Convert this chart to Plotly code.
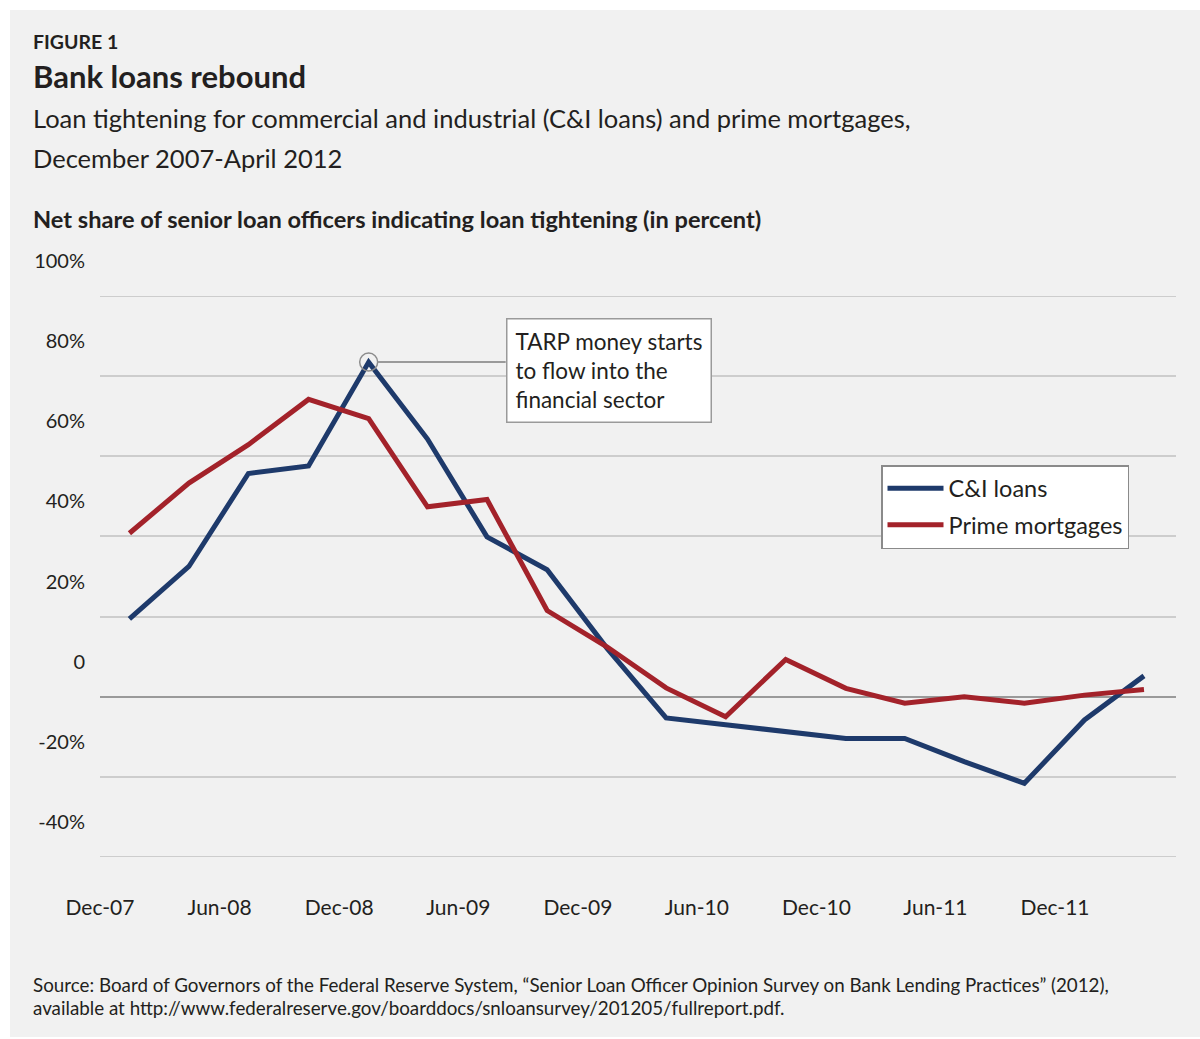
import plotly.graph_objects as go

# Survey dates (quarterly Senior Loan Officer Opinion Survey releases)
survey_dates = [
    "2008-01-15", "2008-04-15", "2008-07-15", "2008-10-15",
    "2009-01-15", "2009-04-15", "2009-07-15", "2009-10-15",
    "2010-01-15", "2010-04-15", "2010-07-15", "2010-10-15",
    "2011-01-15", "2011-04-15", "2011-07-15", "2011-10-15",
    "2012-01-15", "2012-04-15",
]

# Net share of senior loan officers indicating tightening (percent)
ci_loans = [19.4, 32.5, 55.7, 57.6, 83.5, 64.3, 39.9, 31.7,
            12.0, -5.3, -7.0, -8.7, -10.4, -10.4, -16.2, -21.6,
            -5.8, 5.2]
prime_mortgages = [40.8, 53.3, 62.9, 74.2, 69.4, 47.4, 49.2, 21.5,
                   12.4, 2.2, -5.0, 9.3, 2.1, -1.6, 0.0, -1.6,
                   0.4, 1.8]

series_names = ["C&I loans", "Prime mortgages"]

x_tick_dates = ["2007-12-01", "2008-06-01", "2008-12-01", "2009-06-01",
                "2009-12-01", "2010-06-01", "2010-12-01", "2011-06-01",
                "2011-12-01"]
x_tick_labels = ["Dec-07", "Jun-08", "Dec-08", "Jun-09", "Dec-09",
                 "Jun-10", "Dec-10", "Jun-11", "Dec-11"]
y_tick_values = [-40, -20, 0, 20, 40, 60, 80, 100]
y_tick_labels = ["-40%", "-20%", "0", "20%", "40%", "60%", "80%", "100%"]

BLUE = "#1e3a6b"
RED = "#a3222a"
TEXT = "#231f20"
GRID = "#cdcdcd"
FONT = "Lato"

# Figure geometry (pixels)
FIG_W, FIG_H = 1200, 1039
PLOT_L, PLOT_R, PLOT_T, PLOT_B = 100, 1176, 296, 857
PW, PH = PLOT_R - PLOT_L, PLOT_B - PLOT_T


def fx(px):
    return (px - PLOT_L) / PW


def fy(py):
    return (PLOT_B - py) / PH


fig = go.Figure()
fig.add_trace(go.Scatter(x=survey_dates, y=ci_loans, name=series_names[0],
                         mode="lines", line=dict(color=BLUE, width=5),
                         legendgroup="a"))
fig.add_trace(go.Scatter(x=survey_dates, y=prime_mortgages, name=series_names[1],
                         mode="lines", line=dict(color=RED, width=5),
                         legendgroup="b"))

# Highlight the C&I peak with an open circle and a leader line to the note
peak_i = max(range(len(ci_loans)), key=lambda i: ci_loans[i])
peak_x, peak_y = survey_dates[peak_i], ci_loans[peak_i]

shapes = [
    # light grey card behind everything
    dict(type="rect", xref="paper", yref="paper", layer="below",
         x0=fx(10), x1=fx(1200), y0=fy(1037), y1=fy(10),
         fillcolor="#f1f1f1", line=dict(width=0)),
    dict(type="circle", xref="x", yref="y", xsizemode="pixel", ysizemode="pixel",
         xanchor=peak_x, yanchor=peak_y, x0=-9, x1=9, y0=-9, y1=9,
         line=dict(color="#8c8c8c", width=1.5)),
    dict(type="line", xref="x", yref="y", xsizemode="pixel",
         xanchor=peak_x, x0=9, x1=137, y0=peak_y, y1=peak_y,
         line=dict(color="#9a9a9a", width=2)),
]
# gridlines at the top and bottom of the value range
for v in (y_tick_values[0], y_tick_values[-1]):
    shapes.append(dict(type="line", xref="paper", yref="y", layer="below",
                       x0=0, x1=1, y0=v, y1=v, line=dict(color=GRID, width=2)))

annotations = []


def add_text(text, px, py, size, bold=False, **kw):
    annotations.append(dict(
        text=f"<b>{text}</b>" if bold else text,
        xref="paper", yref="paper", x=fx(px), y=fy(py),
        xanchor="left", yanchor="middle", showarrow=False,
        font=dict(family=FONT, size=size, color=TEXT), align="left", **kw))


add_text("FIGURE 1", 31, 42, 19.5, bold=True)
add_text("Bank loans rebound", 31, 76, 31, bold=True)
add_text("Loan tightening for commercial and industrial (C&I loans) and prime mortgages,",
         31, 118, 25.5)
add_text("December 2007-April 2012", 31, 158, 25.5)
add_text("Net share of senior loan officers indicating loan tightening (in percent)",
         31, 219, 23.6, bold=True)
add_text("Source: Board of Governors of the Federal Reserve System, "
         "\u201cSenior Loan Officer Opinion Survey on Bank Lending Practices\u201d (2012),",
         31, 984, 18.8)
add_text("available at http://www.federalreserve.gov/boarddocs/snloansurvey/201205/fullreport.pdf.",
         31, 1007, 18.8)

# Callout box
annotations.append(dict(
    text="TARP money starts<br>to flow into the<br>financial sector",
    xref="paper", yref="paper", x=fx(506), y=fy(318),
    xanchor="left", yanchor="top", showarrow=False, align="left",
    font=dict(family=FONT, size=22.5, color=TEXT),
    bgcolor="#ffffff", bordercolor="#9a9a9a", borderwidth=1.5, borderpad=8))

fig.update_layout(
    width=FIG_W, height=FIG_H,
    margin=dict(l=PLOT_L, r=FIG_W - PLOT_R, t=PLOT_T, b=FIG_H - PLOT_B, pad=0),
    paper_bgcolor="#ffffff", plot_bgcolor="rgba(0,0,0,0)",
    font=dict(family=FONT, color=TEXT),
    shapes=shapes, annotations=annotations,
    showlegend=True,
    legend=dict(x=fx(881), y=fy(465), xanchor="left", yanchor="top",
                bgcolor="#ffffff", bordercolor="#8a8a8a", borderwidth=1.5,
                font=dict(family=FONT, size=23.5, color=TEXT),
                traceorder="grouped", tracegroupgap=3, itemwidth=56),
    xaxis=dict(type="date", range=["2007-12-01", "2012-06-03"],
               tickvals=x_tick_dates, ticktext=x_tick_labels,
               showgrid=False, zeroline=False, showline=False, ticks="",
               tickfont=dict(family=FONT, size=21, color=TEXT),
               ticklabelstandoff=36, fixedrange=True),
    yaxis=dict(range=[-40, 100], tickvals=y_tick_values, ticktext=y_tick_labels,
               showgrid=True, gridcolor=GRID, gridwidth=2,
               zeroline=True, zerolinecolor="#9a9a9a", zerolinewidth=2,
               showline=False, ticks="",
               tickfont=dict(family=FONT, size=20, color=TEXT),
               ticklabelshift=-35, ticklabelstandoff=14, fixedrange=True),
)

fig.write_html("out.html")
